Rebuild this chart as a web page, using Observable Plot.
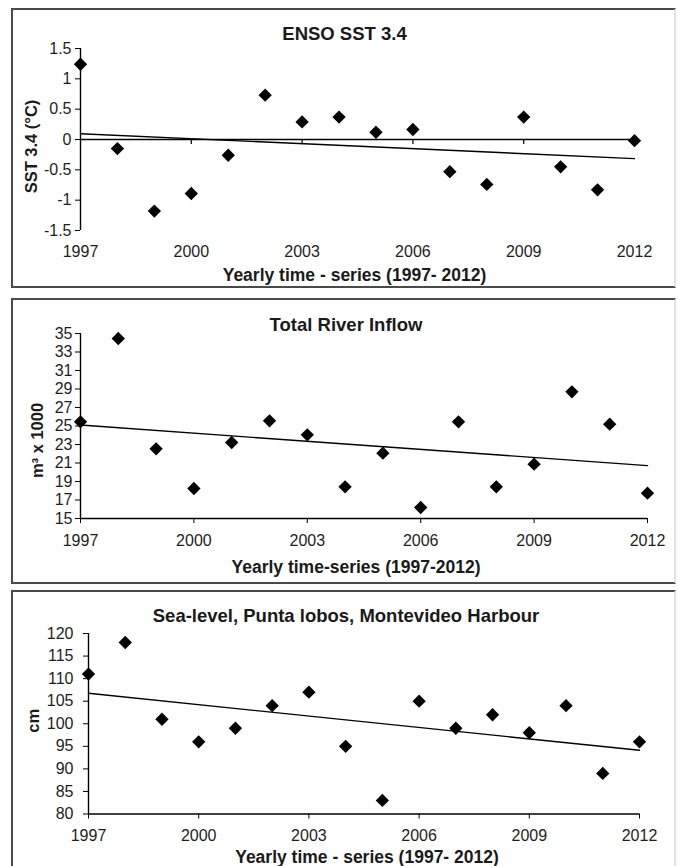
<!DOCTYPE html>
<html><head><meta charset="utf-8">
<script src="https://cdn.jsdelivr.net/npm/d3@7"></script>
<script src="https://cdn.jsdelivr.net/npm/@observablehq/plot@0.6"></script>
<style>
html,body{margin:0;padding:0;background:#fff;}
#wrap{position:relative;width:678px;height:866px;overflow:hidden;background:#fff;}
.box{position:absolute;box-sizing:border-box;border:2px solid #4a4a4a;border-right:2px solid #e2e2e2;}
.plotwrap{position:absolute;left:0;}
.plotwrap svg{display:block;}
</style></head><body><div id="wrap"></div>
<script>
// ---- data ----
const years = [1997,1998,1999,2000,2001,2002,2003,2004,2005,2006,2007,2008,2009,2010,2011,2012];
const ensoValues = [1.24,-0.15,-1.18,-0.89,-0.26,0.73,0.29,0.37,0.12,0.165,-0.53,-0.74,0.37,-0.45,-0.83,-0.02];
const riverValues = [25.45,34.46,22.53,18.24,23.22,25.56,24.05,18.42,22.06,16.19,25.45,18.42,20.87,28.69,25.2,17.74];
const seaValues = [111,118,101,96,99,104,107,95,83,105,99,102,98,104,89,96];
const yearTicks = [1997,2000,2003,2006,2009,2012];
const ensoTicks = [-1.5,-1,-0.5,0,0.5,1,1.5];
const riverTicks = [15,17,19,21,23,25,27,29,31,33,35];
const seaTicks = [80,85,90,95,100,105,110,115,120];
const panelTitles = ["ENSO SST 3.4","Total River Inflow","Sea-level, Punta lobos, Montevideo Harbour"];
const xTitles = ["Yearly time - series (1997- 2012)","Yearly time-series (1997-2012)","Yearly time - series (1997- 2012)"];
const yTitles = ["SST 3.4 (°C)","m³ x 1000","cm"];

const FONT = '"Liberation Sans", Arial, sans-serif';
const wrap = document.getElementById("wrap");

const panels = [
  {values: ensoValues, ticks: ensoTicks, domain:[-1.5,1.5], base:0, top:0, height:288,
   mt:48, mb:58, ml:80, mr:44, zeroAxis:true,
   title:[-13,-14], xt:[-3,45], yt:[-49,7], xPad:15, yPad:4},
  {values: riverValues, ticks: riverTicks, domain:[15,35], base:15, top:290, height:296,
   mt:43, mb:68, ml:80, mr:31, zeroAxis:false,
   title:[-18,-8.5], xt:[-8,48.5], yt:[-43,14.5], xPad:11, yPad:3},
  {values: seaValues, ticks: seaTicks, domain:[80,120], base:80, top:586, height:280,
   mt:47, mb:52.5, ml:88, mr:39, zeroAxis:false,
   title:[-18,-17.5], xt:[3,43.5], yt:[-55,-3], xPad:11, yPad:10}
];

panels.forEach((p, k) => {
  const data = years.map((yr, i) => ({year: yr, value: p.values[i]}));
  const marks = [
    Plot.ruleX([years[0]], {stroke: "#000", strokeWidth: 1.4}),
    Plot.ruleY([p.base], {stroke: "#000", strokeWidth: 1.4}),
    Plot.axisY(p.ticks, {anchor: "left", tickSize: 5, tickPadding: p.yPad, tickFormat: d => String(d),
      fill: "#1e1e1e", stroke: "#000", fontSize: 16, label: null}),
    Plot.axisX(yearTicks, {anchor: "bottom", tickSize: p.zeroAxis ? 0 : 5, tickPadding: p.xPad,
      tickFormat: d => String(d), fill: "#1e1e1e", stroke: "#000", fontSize: 16, label: null}),
    Plot.linearRegressionY(data, {x: "year", y: "value", ci: 0, stroke: "#000", strokeWidth: 1.4}),
    Plot.dot(data, {x: "year", y: "value", symbol: "diamond2", r: 6, fill: "#000", stroke: "none"}),
    Plot.text([panelTitles[k]], {text: d => d, frameAnchor: "top", textAnchor: "middle", lineAnchor: "middle",
      dx: p.title[0], dy: p.title[1], fontSize: 18.5, fontWeight: "bold", fill: "#1a1a1a"}),
    Plot.text([xTitles[k]], {text: d => d, frameAnchor: "bottom", textAnchor: "middle", lineAnchor: "middle",
      dx: p.xt[0], dy: p.xt[1], fontSize: 17.5, fontWeight: "bold", fill: "#1a1a1a"}),
    Plot.text([yTitles[k]], {text: d => d, frameAnchor: "left", rotate: -90, textAnchor: "middle", lineAnchor: "middle",
      dx: p.yt[0], dy: p.yt[1], fontSize: 16.5, fontWeight: "bold", fill: "#1a1a1a"})
  ];
  if (p.zeroAxis) {
    marks.push(Plot.ruleX(yearTicks.slice(1), {x: d => d, y1: () => 0, y2: () => 0, insetBottom: -5,
      stroke: "#000", strokeWidth: 1.2}));
  }
  const chart = Plot.plot({
    width: 678, height: p.height,
    marginTop: p.mt, marginBottom: p.mb, marginLeft: p.ml, marginRight: p.mr,
    x: {domain: [1997, 2012]},
    y: {domain: p.domain, nice: false},
    style: {fontFamily: FONT, fontSize: "16px", background: "transparent", color: "#000"},
    marks
  });
  const div = document.createElement("div");
  div.className = "plotwrap";
  div.style.top = p.top + "px";
  div.appendChild(chart);
  wrap.appendChild(div);
});

// panel frames
[[8, 280], [298, 286], [590, 300]].forEach(([t, h]) => {
  const b = document.createElement("div");
  b.className = "box";
  b.style.left = "11px"; b.style.top = t + "px"; b.style.width = "665px"; b.style.height = h + "px";
  wrap.appendChild(b);
});
</script></body></html>
